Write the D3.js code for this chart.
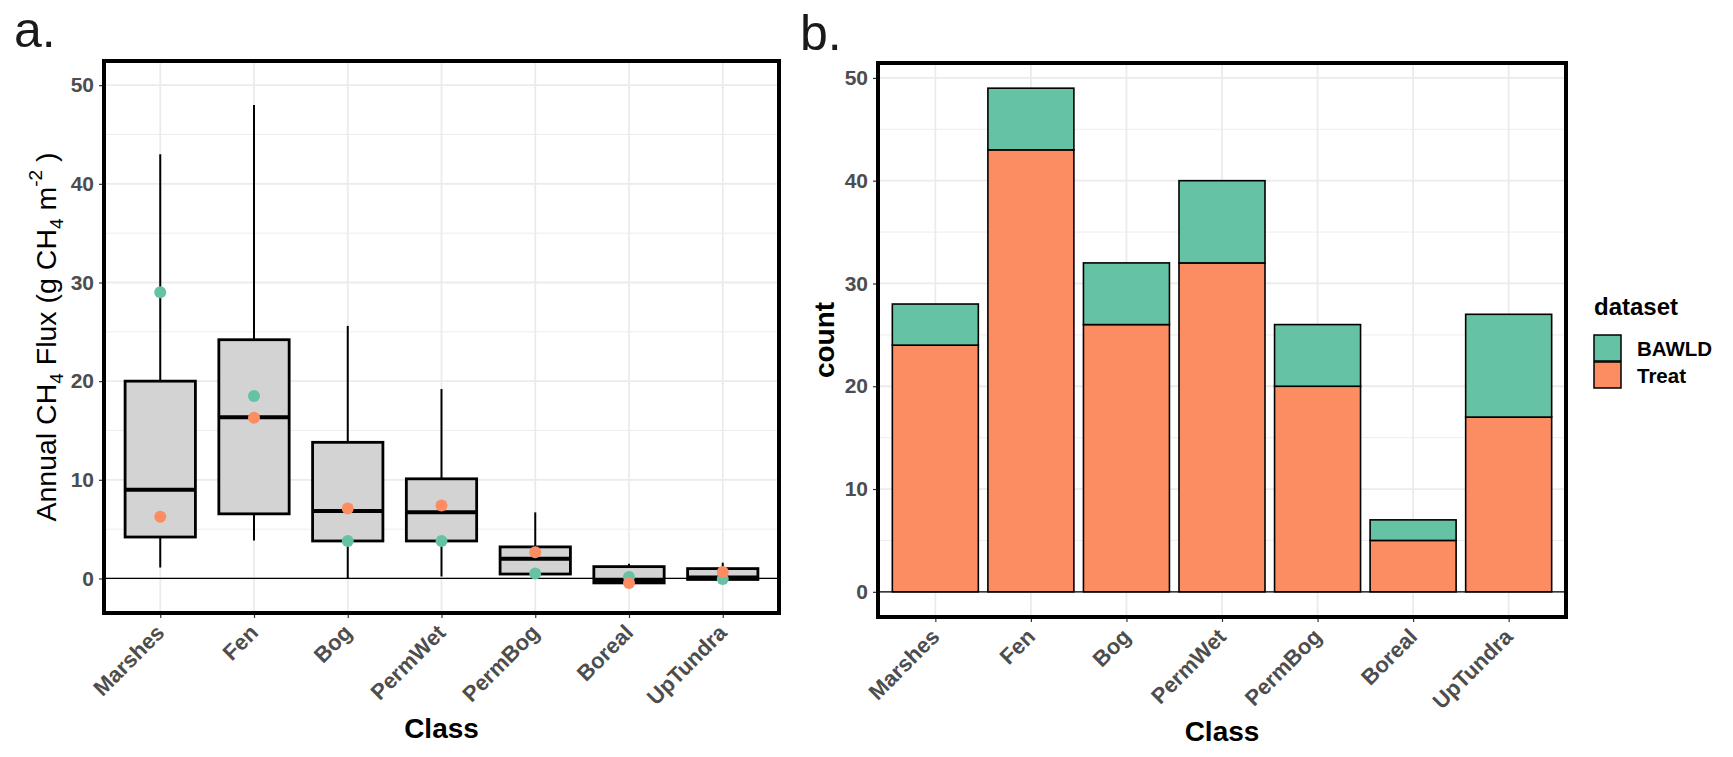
<!DOCTYPE html>
<html>
<head>
<meta charset="utf-8">
<script src="https://cdn.jsdelivr.net/npm/d3@7"></script>
<style>
  body { margin: 0; background: #fff; }
  svg text { font-family: "Liberation Sans", Arial, sans-serif; }
</style>
</head>
<body>
<svg id="chart" width="1733" height="757"></svg>
<script>
// data
var classes = ["Marshes", "Fen", "Bog", "PermWet", "PermBog", "Boreal", "UpTundra"];

// panel a: boxplot stats (g CH4 m-2)
var whiskerLow  = [1.1, 3.85, 0.0, 0.2, 0.3, -0.55, -0.15];
var q1          = [4.2, 6.55, 3.8, 3.8, 0.45, -0.45, -0.1];
var median      = [9.0, 16.35, 6.85, 6.7, 2.0, -0.25, 0.1];
var q3          = [20.0, 24.2, 13.8, 10.1, 3.2, 1.2, 1.0];
var whiskerHigh = [43.0, 48.0, 25.6, 19.2, 6.7, 1.5, 1.6];
var bawldMean   = [29.0, 18.5, 3.8, 3.8, 0.5, 0.15, -0.05];
var treatMean   = [6.25, 16.3, 7.1, 7.4, 2.65, -0.45, 0.65];

// panel b: counts
var bawldCount = [4, 6, 6, 8, 6, 2, 10];
var treatCount = [24, 43, 26, 32, 20, 5, 17];

var datasets = ["BAWLD", "Treat"];
var majorTicks = [0, 10, 20, 30, 40, 50];
var minorTicks = [5, 15, 25, 35, 45];

var colors = {BAWLD: "#66C2A5", Treat: "#FC8D62"};
var gridCol = "#EBEBEB";
var tickCol = "#4D4D4D";

var svg = d3.select("#chart");

// draws grid + axes for a panel, returns scales
function setupPanel(g, box, yDomain) {
  var x = d3.scalePoint().domain(classes).range([box.x0, box.x1]).padding(0.6);
  var y = d3.scaleLinear().domain(yDomain).range([box.y1, box.y0]);

  g.append("g").selectAll("line").data(minorTicks).enter().append("line")
    .attr("x1", box.x0).attr("x2", box.x1)
    .attr("y1", d => y(d)).attr("y2", d => y(d))
    .attr("stroke", gridCol).attr("stroke-width", 0.9);
  g.append("g").selectAll("line").data(majorTicks).enter().append("line")
    .attr("x1", box.x0).attr("x2", box.x1)
    .attr("y1", d => y(d)).attr("y2", d => y(d))
    .attr("stroke", gridCol).attr("stroke-width", 1.8);
  g.append("g").selectAll("line").data(classes).enter().append("line")
    .attr("x1", d => x(d)).attr("x2", d => x(d))
    .attr("y1", box.y0).attr("y2", box.y1)
    .attr("stroke", gridCol).attr("stroke-width", 1.8);

  var yAxis = g.append("g")
    .attr("transform", `translate(${box.x0},0)`)
    .call(d3.axisLeft(y).tickValues(majorTicks).tickSize(5).tickPadding(5));
  yAxis.select(".domain").remove();
  yAxis.selectAll("line").attr("stroke", "#333").attr("stroke-width", 1.2);
  yAxis.selectAll("text")
    .attr("font-family", "Liberation Sans, Arial, sans-serif")
    .attr("font-size", 21).attr("font-weight", "bold").attr("fill", tickCol);

  var xAxis = g.append("g")
    .attr("transform", `translate(0,${box.y1})`)
    .call(d3.axisBottom(x).tickSize(5));
  xAxis.select(".domain").remove();
  xAxis.selectAll("line").attr("stroke", "#333").attr("stroke-width", 1.2);
  xAxis.selectAll("text")
    .attr("font-family", "Liberation Sans, Arial, sans-serif")
    .attr("font-size", 22).attr("font-weight", "bold").attr("fill", tickCol)
    .attr("text-anchor", "end")
    .attr("y", 0).attr("dy", 0)
    .attr("transform", "translate(5,21) rotate(-45)");

  return {x: x, y: y};
}

function frame(g, box) {
  g.append("rect")
    .attr("x", box.x0).attr("y", box.y0)
    .attr("width", box.x1 - box.x0).attr("height", box.y1 - box.y0)
    .attr("fill", "none").attr("stroke", "#000").attr("stroke-width", 4);
}

// ---------- panel a ----------
var boxA = {x0: 104, x1: 779, y0: 61, y1: 613};
var gA = svg.append("g");
var sA = setupPanel(gA, boxA, [-3.5, 52.45]);
var stepA = sA.x.step();
var bw = stepA * 0.75;

var boxes = classes.map((c, i) => ({
  c: c, lo: whiskerLow[i], q1: q1[i], med: median[i], q3: q3[i], hi: whiskerHigh[i]
}));

var bg = gA.append("g");
bg.selectAll(".whisk").data(boxes).enter().append("line")
  .attr("x1", d => sA.x(d.c)).attr("x2", d => sA.x(d.c))
  .attr("y1", d => sA.y(d.hi)).attr("y2", d => sA.y(d.lo))
  .attr("stroke", "#000").attr("stroke-width", 2);
bg.selectAll(".box").data(boxes).enter().append("rect")
  .attr("x", d => sA.x(d.c) - bw / 2).attr("width", bw)
  .attr("y", d => sA.y(d.q3)).attr("height", d => sA.y(d.q1) - sA.y(d.q3))
  .attr("fill", "#D3D3D3").attr("stroke", "#000").attr("stroke-width", 2.8);
bg.selectAll(".med").data(boxes).enter().append("line")
  .attr("x1", d => sA.x(d.c) - bw / 2).attr("x2", d => sA.x(d.c) + bw / 2)
  .attr("y1", d => sA.y(d.med)).attr("y2", d => sA.y(d.med))
  .attr("stroke", "#000").attr("stroke-width", 4);

// zero line
gA.append("line")
  .attr("x1", boxA.x0).attr("x2", boxA.x1)
  .attr("y1", sA.y(0)).attr("y2", sA.y(0))
  .attr("stroke", "#000").attr("stroke-width", 1.2);

// dataset means
var meanSets = [{k: "BAWLD", v: bawldMean}, {k: "Treat", v: treatMean}];
meanSets.forEach(function(s) {
  gA.append("g").selectAll("circle").data(classes).enter().append("circle")
    .attr("cx", d => sA.x(d))
    .attr("cy", (d, i) => sA.y(s.v[i]))
    .attr("r", 6)
    .attr("fill", colors[s.k]);
});

frame(gA, boxA);

// y title a
var tA = gA.append("text")
  .attr("transform", `translate(46,${(boxA.y0 + boxA.y1) / 2}) rotate(-90)`)
  .attr("text-anchor", "middle")
  .attr("dominant-baseline", "central")
  .attr("font-size", 28.5).attr("fill", "#000");
tA.append("tspan").text("Annual CH");
tA.append("tspan").attr("baseline-shift", "sub").attr("font-size", 19).text("4");
tA.append("tspan").text(" Flux (g CH");
tA.append("tspan").attr("baseline-shift", "sub").attr("font-size", 19).text("4");
tA.append("tspan").text(" m");
tA.append("tspan").attr("baseline-shift", "super").attr("font-size", 19).text("-2");
tA.append("tspan").text(" )");

gA.append("text")
  .attr("x", (boxA.x0 + boxA.x1) / 2).attr("y", 738)
  .attr("text-anchor", "middle")
  .attr("font-size", 28).attr("font-weight", "bold").text("Class");

svg.append("text").attr("x", 14).attr("y", 47)
  .attr("font-size", 50).attr("fill", "#1a1a1a").text("a.");

// ---------- panel b ----------
var boxB = {x0: 878, x1: 1566, y0: 63, y1: 617};
var gB = svg.append("g");
var sB = setupPanel(gB, boxB, [-2.45, 51.45]);
var barW = sB.x.step() * 0.9;

var table = classes.map((c, i) => ({Class: c, Treat: treatCount[i], BAWLD: bawldCount[i]}));
var stacked = d3.stack().keys(["Treat", "BAWLD"])(table);

gB.append("g").selectAll("g").data(stacked).enter().append("g")
  .attr("fill", d => colors[d.key])
  .selectAll("rect").data(d => d).enter().append("rect")
  .attr("x", d => sB.x(d.data.Class) - barW / 2)
  .attr("width", barW)
  .attr("y", d => sB.y(d[1]))
  .attr("height", d => sB.y(d[0]) - sB.y(d[1]))
  .attr("stroke", "#000").attr("stroke-width", 1.6);

gB.append("line")
  .attr("x1", boxB.x0).attr("x2", boxB.x1)
  .attr("y1", sB.y(0)).attr("y2", sB.y(0))
  .attr("stroke", "#000").attr("stroke-width", 1.2);

frame(gB, boxB);

gB.append("text")
  .attr("transform", `translate(834,${(boxB.y0 + boxB.y1) / 2}) rotate(-90)`)
  .attr("text-anchor", "middle")
  .attr("font-size", 28).attr("font-weight", "bold").text("count");

gB.append("text")
  .attr("x", (boxB.x0 + boxB.x1) / 2).attr("y", 741)
  .attr("text-anchor", "middle")
  .attr("font-size", 28).attr("font-weight", "bold").text("Class");

svg.append("text").attr("x", 800).attr("y", 50)
  .attr("font-size", 50).attr("fill", "#1a1a1a").text("b.");

// legend
var leg = svg.append("g").attr("transform", "translate(1594,0)");
leg.append("text").attr("x", 0).attr("y", 315)
  .attr("font-family", "DejaVu Sans, Verdana, sans-serif")
  .attr("font-size", 24).attr("font-weight", "bold").text("dataset");
leg.selectAll("rect").data(datasets).enter().append("rect")
  .attr("x", 0).attr("y", (d, i) => 335 + i * 27)
  .attr("width", 27).attr("height", 26)
  .attr("fill", d => colors[d]).attr("stroke", "#000").attr("stroke-width", 1.5);
leg.selectAll(".lab").data(datasets).enter().append("text")
  .attr("x", 43).attr("y", (d, i) => 356 + i * 27)
  .attr("font-family", "DejaVu Sans, Verdana, sans-serif")
  .attr("font-size", 20.5).attr("font-weight", "bold").text(d => d);
</script>
</body>
</html>
